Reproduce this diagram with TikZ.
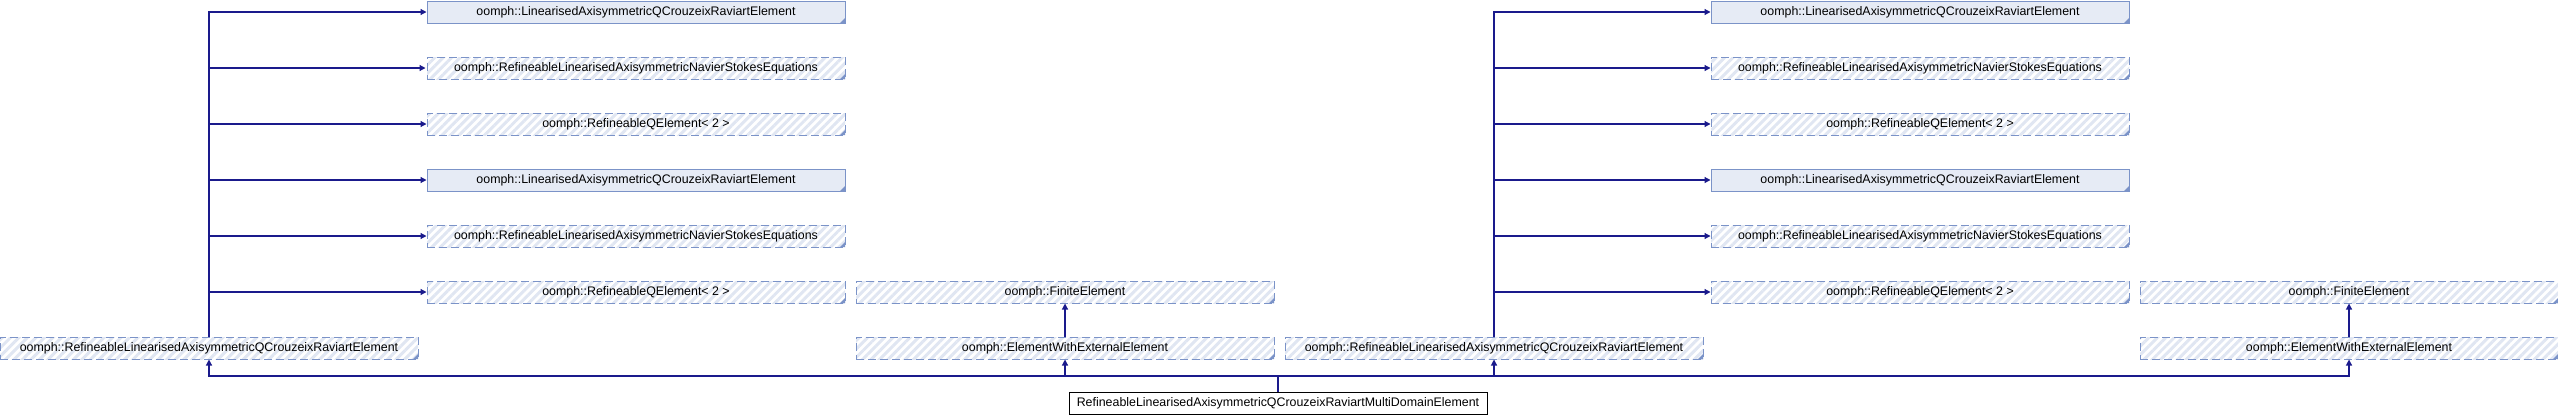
\documentclass[tikz,border=0pt]{standalone}
\usepackage{fontspec}
\setmainfont{Liberation Sans}
\usetikzlibrary{arrows.meta,patterns.meta}

\definecolor{edgec}{HTML}{1A1A8C}
\definecolor{bordc}{HTML}{7B93C8}
\definecolor{docfill}{HTML}{E6EBF5}
\definecolor{hatchc}{HTML}{E0E6F2}

\begin{document}
\begin{tikzpicture}[x=1pt,y=1pt,
    clsbox/.style={minimum width=418pt,minimum height=22pt,inner sep=0pt,line width=1pt,
        font=\fontsize{12.4}{14}\selectfont,
        path picture={\fill[bordc] (path picture bounding box.south east) -- ++(-5pt,0) -- ++(5pt,5pt) -- cycle;}},
    docbox/.style={clsbox,draw=bordc,fill=docfill},
    undocbox/.style={clsbox,draw=bordc,dash pattern=on 8pt off 4pt,
        pattern={Lines[angle=45,distance=6pt,line width=3pt]},pattern color=hatchc},
    mainbox/.style={clsbox,draw=black,fill=white,path picture={}},
    inherit/.style={draw=edgec,line width=1.2pt,-{Triangle[length=6pt,width=6pt]}}]

    \useasboundingbox (0,0) rectangle (2558,-416);

    % 左侧:父类
    \node[docbox]   (pA1) at (636,-12)  {oomph::LinearisedAxisymmetricQCrouzeixRaviartElement};
    \node[undocbox] (pA2) at (636,-68)  {oomph::RefineableLinearisedAxisymmetricNavierStokesEquations};
    \node[undocbox] (pA3) at (636,-124) {oomph::RefineableQElement< 2 >};
    \node[docbox]   (pA4) at (636,-180) {oomph::LinearisedAxisymmetricQCrouzeixRaviartElement};
    \node[undocbox] (pA5) at (636,-236) {oomph::RefineableLinearisedAxisymmetricNavierStokesEquations};
    \node[undocbox] (pA6) at (636,-292) {oomph::RefineableQElement< 2 >};
    \node[undocbox] (feA) at (1065,-292) {oomph::FiniteElement};

    % 左侧:子类
    \node[undocbox] (childA) at (209,-348)  {oomph::RefineableLinearisedAxisymmetricQCrouzeixRaviartElement};
    \node[undocbox] (eweA)   at (1065,-348) {oomph::ElementWithExternalElement};

    % 右侧:父类
    \node[docbox]   (pB1) at (1920,-12)  {oomph::LinearisedAxisymmetricQCrouzeixRaviartElement};
    \node[undocbox] (pB2) at (1920,-68)  {oomph::RefineableLinearisedAxisymmetricNavierStokesEquations};
    \node[undocbox] (pB3) at (1920,-124) {oomph::RefineableQElement< 2 >};
    \node[docbox]   (pB4) at (1920,-180) {oomph::LinearisedAxisymmetricQCrouzeixRaviartElement};
    \node[undocbox] (pB5) at (1920,-236) {oomph::RefineableLinearisedAxisymmetricNavierStokesEquations};
    \node[undocbox] (pB6) at (1920,-292) {oomph::RefineableQElement< 2 >};
    \node[undocbox] (feB) at (2349,-292) {oomph::FiniteElement};

    % 右侧:子类
    \node[undocbox] (childB) at (1494,-348) {oomph::RefineableLinearisedAxisymmetricQCrouzeixRaviartElement};
    \node[undocbox] (eweB)   at (2349,-348) {oomph::ElementWithExternalElement};

    % 底部:本类
    \node[mainbox] (mdE) at (1278,-403) {RefineableLinearisedAxisymmetricQCrouzeixRaviartMultiDomainElement};
    \coordinate (bus) at (1278,-376);

    % 左侧继承线
    \draw[inherit] (childA.north) |- (pA1.west);
    \draw[inherit] (childA.north) |- (pA2.west);
    \draw[inherit] (childA.north) |- (pA3.west);
    \draw[inherit] (childA.north) |- (pA4.west);
    \draw[inherit] (childA.north) |- (pA5.west);
    \draw[inherit] (childA.north) |- (pA6.west);
    \draw[inherit] (eweA.north) -- (feA.south);

    % 右侧继承线
    \draw[inherit] (childB.north) |- (pB1.west);
    \draw[inherit] (childB.north) |- (pB2.west);
    \draw[inherit] (childB.north) |- (pB3.west);
    \draw[inherit] (childB.north) |- (pB4.west);
    \draw[inherit] (childB.north) |- (pB5.west);
    \draw[inherit] (childB.north) |- (pB6.west);
    \draw[inherit] (eweB.north) -- (feB.south);

    % 底部继承线
    \draw[inherit] (mdE.north) -- (bus) -| (childA.south);
    \draw[inherit] (mdE.north) -- (bus) -| (eweA.south);
    \draw[inherit] (mdE.north) -- (bus) -| (childB.south);
    \draw[inherit] (mdE.north) -- (bus) -| (eweB.south);

\end{tikzpicture}
\end{document}
